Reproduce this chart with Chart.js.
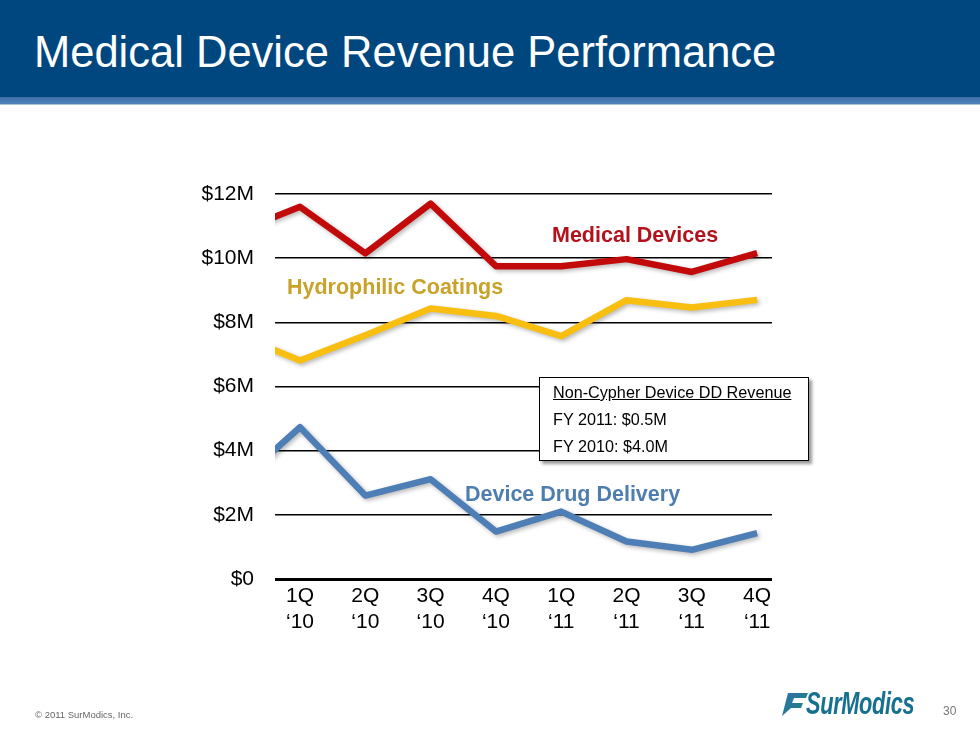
<!DOCTYPE html>
<html>
<head>
<meta charset="utf-8">
<script src="https://cdn.jsdelivr.net/npm/chart.js@4.4.1/dist/chart.umd.min.js"></script>
<style>
  html, body { margin: 0; padding: 0; background: #fff; }
  body { width: 980px; height: 735px; position: relative; overflow: hidden; font-family: "Liberation Sans", Arial, sans-serif; }
  #header { position: absolute; left: 0; top: 0; width: 980px; height: 97px; background: #00477f; }
  #band { position: absolute; left: 0; top: 97px; width: 980px; height: 7px; background: linear-gradient(#3f6ea8, #5083bd); }
  #band2 { position: absolute; left: 0; top: 104px; width: 980px; height: 1px; background: #a6c9d6; }
  #title { position: absolute; left: 34px; top: 31px; font-size: 43.5px; line-height: 43.5px; color: #fff; white-space: nowrap; }
  #chart { position: absolute; left: 0; top: 0; }
  .series { position: absolute; font-weight: bold; font-size: 21.5px; line-height: 21.5px; white-space: nowrap; }
  #note { position: absolute; left: 539px; top: 377px; width: 268px; height: 82px; border: 1px solid #000; background: #fff;
          box-shadow: 3px 3px 3px rgba(0,0,0,0.4); }
  #note div { position: absolute; left: 13px; font-size: 16.2px; line-height: 16px; white-space: nowrap; color: #000; }
  #copy { position: absolute; left: 35px; top: 709px; font-size: 9.5px; color: #666; }
  #page { position: absolute; left: 943px; top: 704px; font-size: 12px; color: #777; }
  #logo { position: absolute; left: 782px; top: 690px; height: 30px; }
  #logoText { position: absolute; left: 24px; top: -3px; font-size: 32px; line-height: 32px; font-weight: bold; font-style: italic;
              color: #16708f; transform: scaleX(0.68); transform-origin: left top; white-space: nowrap; letter-spacing: -0.5px; }
</style>
</head>
<body>
<div id="header"></div>
<div id="band"></div>
<div id="band2"></div>
<div id="title">Medical Device Revenue Performance</div>

<canvas id="chart" width="980" height="735"></canvas>

<div class="series" style="left:552px; top:225px; color:#b3121c;">Medical Devices</div>
<div class="series" style="left:287px; top:277px; color:#c9a22a;">Hydrophilic Coatings</div>
<div class="series" style="left:465px; top:484px; color:#4e7db0;">Device Drug Delivery</div>

<div id="note">
  <div style="top:6px; text-decoration:underline;">Non-Cypher Device DD Revenue</div>
  <div style="top:33px;">FY 2011: $0.5M</div>
  <div style="top:60px;">FY 2010: $4.0M</div>
</div>

<div id="copy">© 2011 SurModics, Inc.</div>
<div id="logo">
  <svg width="26" height="28" viewBox="0 0 26 28">
    <defs>
      <linearGradient id="lg" x1="0" y1="0" x2="1" y2="1">
        <stop offset="0" stop-color="#2f6db5"/>
        <stop offset="1" stop-color="#1b8a6e"/>
      </linearGradient>
    </defs>
    <polygon points="6,3 26,3 24,8 12,8 10,13 21,13 19,18 9,18 0,26" fill="url(#lg)"/>
  </svg>
  <div id="logoText">SurModics</div>
</div>
<div id="page">30</div>

<script>
// quarter labels (first one is the prior quarter, just off the left edge)
const quarters = ["4Q ‘09", "1Q ‘10", "2Q ‘10", "3Q ‘10", "4Q ‘10", "1Q ‘11", "2Q ‘11", "3Q ‘11", "4Q ‘11"];

// revenue, $M
const medicalDevices = [10.8, 11.6, 10.15, 11.7, 9.75, 9.75, 9.97, 9.57, 10.16];
const hydrophilicCoatings = [7.65, 6.81, 7.6, 8.43, 8.2, 7.57, 8.69, 8.46, 8.7];
const deviceDrugDelivery = [2.9, 4.73, 2.6, 3.11, 1.48, 2.1, 1.17, 0.91, 1.43];

const yTickLabels = ["$0", "$2M", "$4M", "$6M", "$8M", "$10M", "$12M"];

function toPoints(values) {
    return values.map((v, i) => ({ x: i, y: v }));
}

const lineShadow = {
    id: "lineShadow",
    beforeDatasetsDraw(chart) {
        const c = chart.ctx;
        c.save();
        c.shadowColor = "rgba(0,0,0,0.28)";
        c.shadowBlur = 4;
        c.shadowOffsetX = 2;
        c.shadowOffsetY = 2;
    },
    afterDatasetsDraw(chart) {
        chart.ctx.restore();
    },
};

const lineStyle = {
    borderWidth: 6.5,
    pointRadius: 0,
    tension: 0,
    borderJoinStyle: "round",
    clip: { left: 0, right: false, top: false, bottom: false },
};

const ctx = document.getElementById("chart").getContext("2d");

new Chart(ctx, {
    type: "line",
    data: {
        datasets: [
            { label: "Medical Devices", data: toPoints(medicalDevices), borderColor: "#c20a0a", ...lineStyle },
            { label: "Hydrophilic Coatings", data: toPoints(hydrophilicCoatings), borderColor: "#f8bf10", ...lineStyle },
            { label: "Device Drug Delivery", data: toPoints(deviceDrugDelivery), borderColor: "#4d7eb5", ...lineStyle },
        ],
    },
    options: {
        responsive: false,
        animation: false,
        events: [],
        layout: { padding: { left: 185, right: 208, top: 194, bottom: 80 } },
        plugins: {
            legend: { display: false },
            tooltip: { enabled: false },
        },
        scales: {
            x: {
                type: "linear",
                min: 0.617,
                max: 8.228,
                border: { display: false },
                grid: { display: false, drawTicks: false },
                afterBuildTicks: (scale) => {
                    scale.ticks = quarters.slice(1).map((q, i) => ({ value: i + 1 }));
                },
                afterFit: (scale) => {
                    scale.height = 76;
                },
                ticks: {
                    autoSkip: false,
                    maxRotation: 0,
                    padding: 4,
                    color: "#000",
                    font: { family: "'Liberation Sans', Arial, sans-serif", size: 21, lineHeight: 1.238 },
                    callback: (value) => quarters[value].split(" "),
                },
            },
            y: {
                min: 0,
                max: 12,
                border: { display: false },
                grid: {
                    color: "#000",
                    lineWidth: (c) => (c.tick && c.tick.value === 0 ? 3 : 1.5),
                    drawTicks: false,
                },
                afterFit: (scale) => {
                    scale.width = 90;
                },
                ticks: {
                    stepSize: 2,
                    padding: 21,
                    color: "#000",
                    font: { family: "'Liberation Sans', Arial, sans-serif", size: 21 },
                    callback: (value) => yTickLabels[value / 2],
                },
            },
        },
    },
    plugins: [lineShadow],
});
</script>
</body>
</html>
